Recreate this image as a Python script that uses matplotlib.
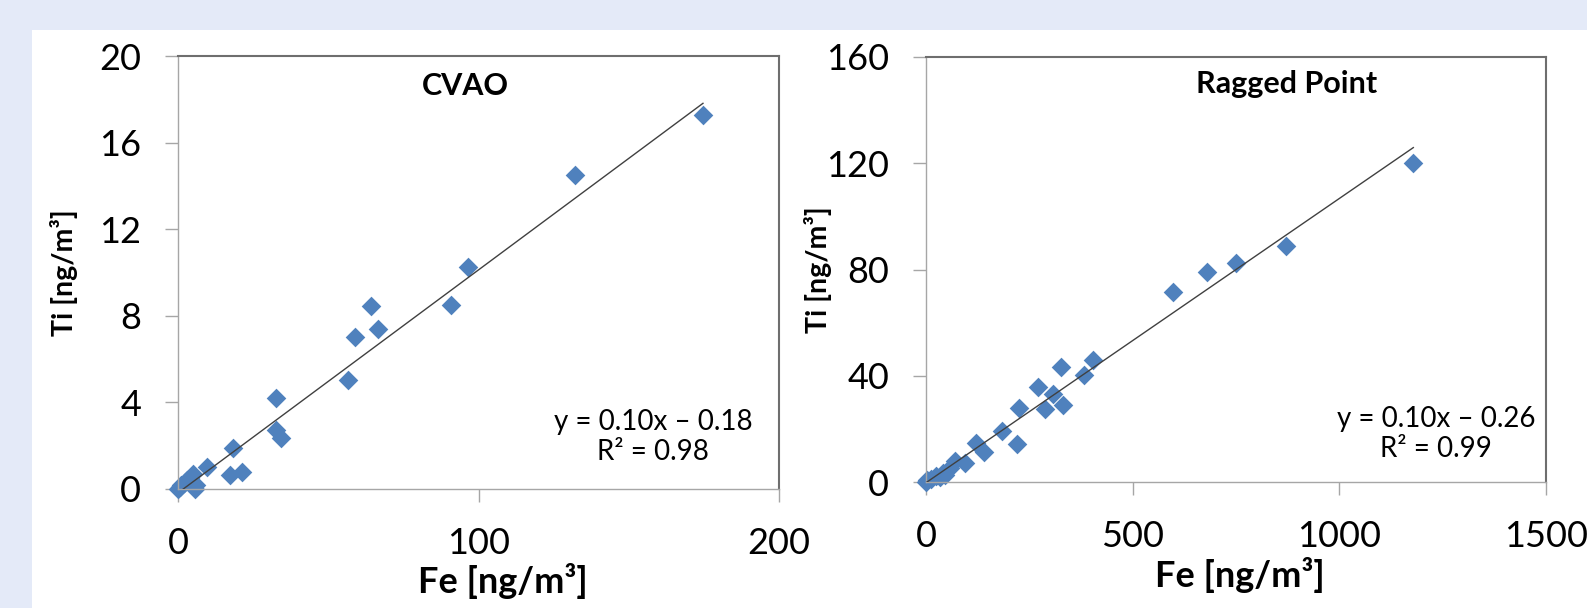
"""
Ti vs Fe scatter plots for CVAO and Ragged Point with linear trendlines.
Exports: out.png
"""

import matplotlib
matplotlib.use("Agg")
import matplotlib.pyplot as plt
from matplotlib.patches import Rectangle

plt.rcParams["font.family"] = ["Lato", "DejaVu Sans"]

# ---------- Data ----------
cvao_fe = [0, 0.5, 1, 2, 3, 4, 5, 5.5, 6, 9.5, 17.3, 18.2, 21.2, 32.7, 32.7, 34.4,
           56.5, 58.9, 64.1, 66.5, 90.8, 96.5, 132.1, 174.7]
cvao_ti = [0, 0.1, 0.2, 0.3, 0.4, 0.5, 0.7, 0.0, 0.2, 1.0, 0.65, 1.9, 0.78, 4.21, 2.72, 2.36,
           5.05, 7.02, 8.47, 7.41, 8.50, 10.24, 14.49, 17.26]
cvao_fit = (0.103, -0.18)

rp_fe = [0, 2, 11, 23, 35, 41, 45, 57, 70, 94, 122, 141, 185, 219, 226, 271, 287, 308,
         332, 326, 382, 404, 597, 680, 749, 871, 1179]
rp_ti = [0, 0.8, 1.2, 2.2, 1.9, 3.4, 2.6, 5.1, 7.8, 7.1, 14.6, 11.4, 19.3, 14.4, 27.7, 35.9, 27.4,
         33.0, 29.1, 43.2, 40.1, 46.1, 71.5, 79.0, 82.6, 89.0, 120.1]
rp_fit = (0.107, -0.26)

titles = ["CVAO", "Ragged Point"]
equations = ["y = 0.10x \u2013 0.18\nR\u00b2 = 0.98", "y = 0.10x \u2013 0.26\nR\u00b2 = 0.99"]
x_ticks = [[0, 100, 200], [0, 500, 1000, 1500]]
y_ticks = [[0, 4, 8, 12, 16, 20], [0, 40, 80, 120, 160]]

MARKER_COLOR = "#4F81BD"
W, H = 1587, 608


def px_axes(x0, y0, x1, y1):
    # pixel box (top-left origin) -> figure fraction
    return [x0 / W, 1 - y1 / H, (x1 - x0) / W, (y1 - y0) / H]


def draw_panel(ax, fe, ti, fit, title, eq, xt, yt, title_xy, eq_xy, ylab_x, xlab_xy):
    ax.scatter(fe, ti, marker="D", s=100, color=MARKER_COLOR, linewidths=0, zorder=2,
               clip_on=False)
    # trendline across the data range
    xs = [min(fe), max(fe)]
    ax.plot(xs, [fit[0] * x + fit[1] for x in xs], color="#404040", lw=1.0, zorder=3)

    ax.set_xlim(xt[0], xt[-1])
    ax.set_ylim(yt[0], yt[-1])
    ax.set_xticks(xt)
    ax.set_yticks(yt)
    ax.tick_params(direction="out", length=9.5, width=1.0, color="#A6A6A6",
                   labelsize=26, labelcolor="black")
    ax.tick_params(axis="y", pad=17)
    ax.tick_params(axis="x", pad=18)

    for side in ["left", "bottom"]:
        ax.spines[side].set_color("#A6A6A6")
        ax.spines[side].set_linewidth(1.0)
    for side in ["top", "right"]:
        ax.spines[side].set_color("#6E6E6E")
        ax.spines[side].set_linewidth(1.5)

    ax.text(title_xy[0], title_xy[1], title, transform=ax.transAxes, ha="center",
            va="center", fontsize=22, fontweight="bold")
    ax.text(eq_xy[0], eq_xy[1], eq, transform=ax.transAxes, ha="center", va="center",
            fontsize=20, linespacing=1.2)

    ax.set_ylabel("Ti [ng/m\u00b3]", fontsize=20.5, fontweight="bold")
    ax.yaxis.set_label_coords(ylab_x, 0.5)
    ax.yaxis.label.set_verticalalignment("center")
    ax.set_xlabel("Fe [ng/m\u00b3]", fontsize=26, fontweight="bold")
    ax.xaxis.set_label_coords(xlab_xy[0], xlab_xy[1])
    ax.xaxis.label.set_verticalalignment("center")


def main():
    fig = plt.figure(figsize=(W / 100, H / 100), dpi=100, facecolor="#E4EAF8")
    # white panel behind the charts
    fig.patches.append(Rectangle((32 / W, 0), 1 - 32 / W, 1 - 30 / H,
                                 transform=fig.transFigure, facecolor="white",
                                 edgecolor="none", zorder=-5))

    ax1 = fig.add_axes(px_axes(178, 56, 779, 489))
    ax2 = fig.add_axes(px_axes(926, 57, 1546, 482))
    for ax in (ax1, ax2):
        ax.set_zorder(2)

    draw_panel(ax1, cvao_fe, cvao_ti, cvao_fit, titles[0], equations[0],
               x_ticks[0], y_ticks[0],
               title_xy=((465 - 178) / 601, (489 - 86) / 433),
               eq_xy=((653 - 178) / 601, (489 - 437) / 433),
               ylab_x=(64 - 178) / 601, xlab_xy=((503 - 178) / 601, (489 - 581) / 433))
    draw_panel(ax2, rp_fe, rp_ti, rp_fit, titles[1], equations[1],
               x_ticks[1], y_ticks[1],
               title_xy=((1287 - 926) / 620, (482 - 84) / 425),
               eq_xy=((1436 - 926) / 620, (482 - 434) / 425),
               ylab_x=(818 - 926) / 620, xlab_xy=((1240 - 926) / 620, (482 - 575) / 425))

    fig.savefig("out.png", dpi=100, facecolor=fig.get_facecolor())
    plt.close(fig)


if __name__ == "__main__":
    main()
